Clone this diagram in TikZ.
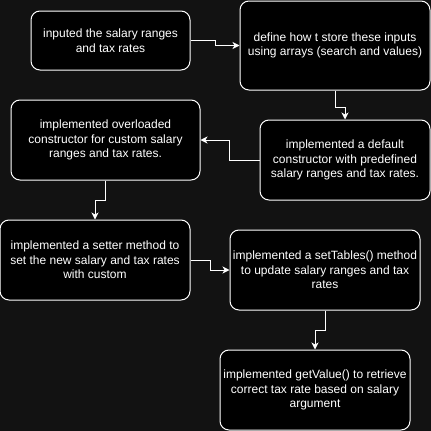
\documentclass[tikz,border=0pt]{standalone}
\usepackage{fontspec}
\setmainfont{Liberation Sans}
\usetikzlibrary{arrows.meta}
\definecolor{bgc}{RGB}{18,18,18}
\tikzset{
  box/.style={draw=white, fill=black, text=white, rounded corners=9pt, line width=1pt,
    align=center, inner sep=2pt, font=\fontsize{12}{14.5}\selectfont},
  conn/.style={draw=white, line width=1pt, -{Stealth[length=7pt,width=7pt,inset=2pt]}}
}
\begin{document}
\begin{tikzpicture}[x=1pt,y=-1pt]
\fill[bgc] (0,0) rectangle (431,431);
\useasboundingbox (0,0) rectangle (431,431);
\node[box, minimum width=159pt, minimum height=59pt] (A) at (110.5,40.5) {inputed the salary ranges\\and tax rates};
\node[box, minimum width=190pt, minimum height=89pt] (B) at (335,45.5) {define how t store these inputs\\using arrays (search and values)};
\node[box, minimum width=189pt, minimum height=80pt] (C) at (105.5,140) {implemented overloaded\\constructor for custom salary\\ranges and tax rates.};
\node[box, minimum width=170pt, minimum height=80pt] (D) at (345,160) {implemented a default\\constructor with predefined\\salary ranges and tax rates.};
\node[box, minimum width=190pt, minimum height=80pt] (E) at (95,260) {implemented a setter method to\\set the new salary and tax rates\\with custom};
\node[box, minimum width=190pt, minimum height=80pt] (F) at (325,270) {implemented a setTables() method\\to update salary ranges and tax\\rates};
\node[box, minimum width=190pt, minimum height=80pt] (G) at (315,390) {implemented getValue() to retrieve\\correct tax rate based on salary\\argument};
\draw[conn] (A.east) -- ++(25,0) |- (B.west);
\draw[conn] (B.south) -- ++(0,17) -| (D.north);
\draw[conn] (D.west) -- ++(-30,0) |- (C.east);
\draw[conn] (C.south) -- ++(0,20) -| (E.north);
\draw[conn] (E.east) -- ++(20,0) |- (F.west);
\draw[conn] (F.south) -- ++(0,20) -| (G.north);
\end{tikzpicture}
\end{document}
